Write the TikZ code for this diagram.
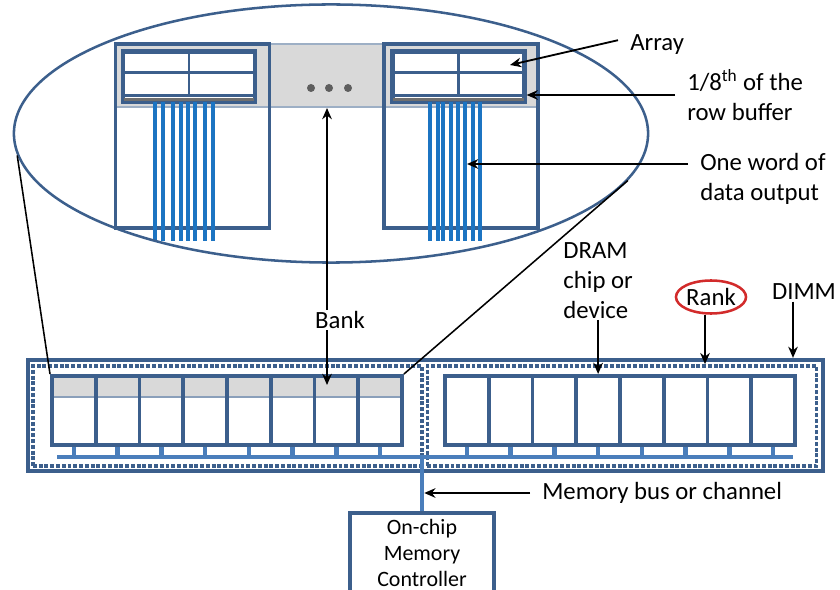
\documentclass[tikz,border=0pt]{standalone}
\usepackage{fontspec}
\setmainfont{Carlito}
\usepackage{tikz}
\usetikzlibrary{arrows.meta, positioning, shapes.geometric}

\definecolor{dimmblue}{HTML}{3C5F8C}
\definecolor{busblue}{HTML}{4A7EBB}
\definecolor{wireblue}{HTML}{1C74C2}
\definecolor{bankgray}{HTML}{D9D9D9}
\definecolor{rowgray}{HTML}{6F6F6F}
\definecolor{dotgray}{HTML}{5E5E5E}
\definecolor{rankred}{HTML}{D22B2B}

\tikzstyle{line} = [draw, -{Stealth[length=2.8mm,width=2.4mm]}, line width=1.3pt, black]
\tikzstyle{lbl} = [font=\fontsize{17.6}{21.3}\selectfont, align=left, inner xsep=0.3cm, inner ysep=1pt]
\tikzstyle{bankbox} = [rectangle, draw=dimmblue, line width=2.7pt,
  minimum width=3.85cm, minimum height=4.6cm, inner sep=0pt]
\tikzstyle{arraybox} = [rectangle, draw=dimmblue, fill=white, line width=3pt,
  minimum width=3.3cm, minimum height=1.25cm, inner sep=0pt]
\tikzstyle{cellline} = [draw=dimmblue, line width=2pt]
\tikzstyle{rowbuf} = [draw=rowgray, line width=1.8pt]
\tikzstyle{wire} = [draw=wireblue, line width=2.3pt]
\tikzstyle{chip} = [rectangle, draw=dimmblue, fill=white, line width=2.8pt,
  minimum width=1.09375cm, minimum height=1.725cm, inner sep=0pt, anchor=north west]
\tikzstyle{graychip} = [chip, path picture={
  \fill[bankgray] (path picture bounding box.north west) rectangle ([yshift=-0.525cm]path picture bounding box.north east);
  \draw[dimmblue!60, line width=0.9pt] ([yshift=-0.525cm]path picture bounding box.north west) -- ([yshift=-0.525cm]path picture bounding box.north east);}]
\tikzstyle{rankbox} = [rectangle, draw=dimmblue, line width=2.6pt, dash pattern=on 2.8pt off 1.3pt,
  minimum width=9.725cm, minimum height=2.5cm, inner sep=0pt]
\tikzstyle{dimmbox} = [rectangle, draw=dimmblue, line width=3pt,
  minimum width=19.875cm, minimum height=2.775cm, inner sep=0pt]
\tikzstyle{bus} = [draw=busblue, line width=3.2pt]
\tikzstyle{ctrl} = [rectangle, draw=dimmblue, fill=white, line width=3pt, minimum width=3.6cm,
  minimum height=2cm, align=center, font=\fontsize{15.6}{18.2}\selectfont, inner sep=0pt]
\tikzstyle{rankmark} = [ellipse, draw=rankred, line width=1.8pt, minimum width=1.65cm,
  minimum height=0.825cm, inner sep=0pt, font=\fontsize{17.6}{21.3}\selectfont]

\begin{document}
\begin{tikzpicture}[x=0.025cm, y=-0.025cm]
    \useasboundingbox (0,0) rectangle (840,590);
    \clip (0,0) rectangle (840,590);

    % zoomed view of one chip
    \draw[fill=bankgray, draw=dimmblue!50, line width=0.9pt] (116,44) rectangle (538,107);
    \node [bankbox] (lbank) at (192.5,136) {};
    \node [bankbox] (rbank) at (461,136) {};
    \node [arraybox] (larray) at (189,76.5) {};
    \node [arraybox] (rarray) at (458.5,76.5) {};
    \foreach \a in {larray, rarray} {
      \draw[cellline] (\a.north) -- ([yshift=0.2cm]\a.south);
      \draw[cellline] ([yshift=0.09cm]\a.west) -- ([yshift=0.09cm]\a.east);
      \draw[cellline] ([yshift=0.2cm]\a.south west) -- ([yshift=0.2cm]\a.south east);
      \draw[rowbuf] ([xshift=2pt,yshift=0.1cm]\a.south west) -- ([xshift=-2pt,yshift=0.1cm]\a.south east);
    }
    \foreach \x in {155,163,173,181,188,195,205,213,430,438,443,451,458,465,473,480}
      \draw[wire] (\x,102) -- (\x,241);
    \foreach \x in {311,329,348}
      \fill[dotgray] (\x,88) circle[radius=0.1cm];
    \node [ellipse, draw=dimmblue, line width=1.8pt, minimum width=15.85cm,
      minimum height=6.45cm, inner sep=0pt] (zoomview) at (331,133.5) {};

    % DIMM with two ranks
    \node [dimmbox] (dimm) at (425.5,415.5) {};
    \node [rankbox] (rankA) at (227.5,416) {};
    \node [rankbox] (rankB) at (622,416) {};
    \foreach \i in {0,...,7} {
      \node [graychip] (a\i) at ({50+43.75*\i},374) {};
      \node [chip] (b\i) at ({443+43.75*\i},374) {};
    }
    \coordinate (busL) at (57,457);
    \coordinate (busR) at (793,457);
    \draw[bus] (busL) -- (busR);
    \foreach \i in {0,...,7} {
      \draw[bus] (a\i.south) -- (a\i.south |- busL);
      \draw[bus] (b\i.south) -- (b\i.south |- busL);
    }
    \node [ctrl] (mc) at (422,553) {On-chip\\Memory\\Controller};
    \draw[bus] (mc.north |- busL) -- (mc.north);

    \draw[black, line width=1.1pt] (zoomview.184) -- (a0.north west);
    \draw[black, line width=1.1pt] (zoomview.351) -- (a7.north east);

    % labels
    \node [lbl, anchor=west] (arraylbl) at (618,45) {Array};
    \node [lbl, anchor=west] (rowlbl) at (675,95) {1/8\textsuperscript{th} of the\\row buffer};
    \node [lbl, anchor=west] (wordlbl) at (688,178.5) {One word of\\data output};
    \node [lbl] (banklbl) at (340,320) {Bank};
    \node [lbl, above=1.35cm of b3] (dramlbl) {DRAM\\chip or\\device};
    \node [rankmark] (ranklbl) at (711,297) {Rank};
    \node [lbl] (dimmlbl) at (804,292) {DIMM};
    \node [lbl, anchor=west] (buslbl) at (530,493) {Memory bus or channel};

    \coordinate (arrayend) at (510,65);
    \coordinate (wordend) at (467,164);
    \coordinate (bankup) at (327,108);
    \coordinate (bankdown) at (327,385);

    \path [line] ([yshift=0.12cm]arraylbl.west) -- (arrayend);
    \path [line] (rowlbl.west) -- (rowlbl.west -| rarray.east);
    \path [line] (wordlbl.west |- wordend) -- (wordend);
    \path [line] (banklbl.north -| bankup) -- (bankup);
    \path [line] (banklbl.south -| bankdown) -- (bankdown);
    \path [line] (dramlbl.south) -- (b3.north);
    \path [line] ([xshift=-0.15cm]ranklbl.south) -- ([xshift=-0.15cm]ranklbl.south |- rankB.north);
    \path [line] ([xshift=-0.275cm]dimmlbl.south) -- ([xshift=-0.275cm]dimmlbl.south |- dimm.north);
    \path [line, shorten >=1.6pt] (buslbl.west) -- (buslbl.west -| mc.north);

\end{tikzpicture}
\end{document}
